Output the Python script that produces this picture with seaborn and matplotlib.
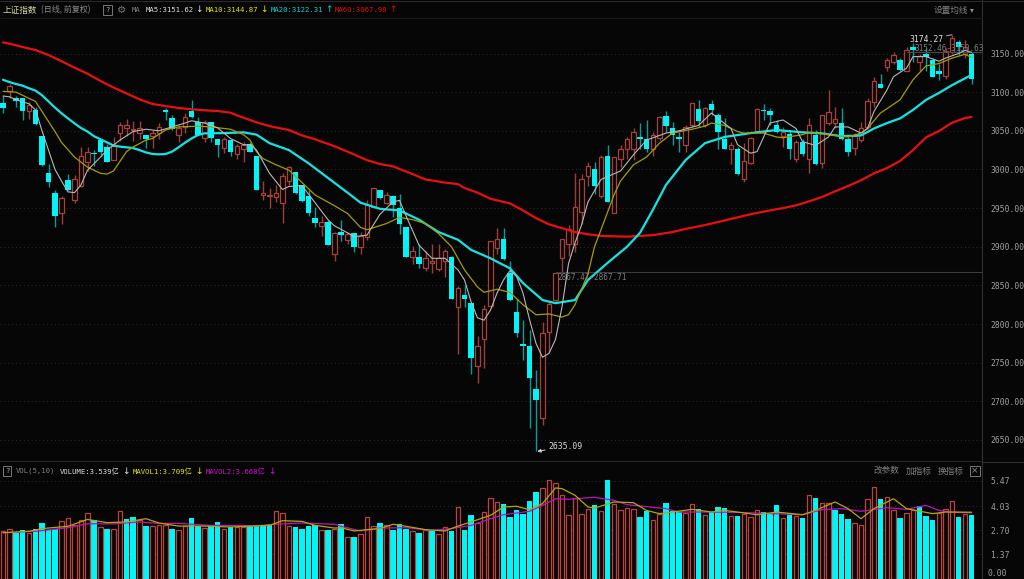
import matplotlib
matplotlib.use('Agg')
import matplotlib.pyplot as plt
import seaborn as sns
import numpy as np

# daily candles of the index
highs = [3095,3111,3095,3092,3087,3081,3043,3007,2973,2966,
         2994,2993,3029,3029,3025,3040,3033,3042,3061,3065,
         3063,3063,3045,3051,3060,3080,3071,3057,3073,3090,
         3068,3064,3062,3039,3042,3039,3033,3036,3036,3017,
         2985,2976,2980,2995,3004,2997,2980,2973,2951,2940,
         2935,2919,2935,2919,2918,2919,2961,2976,2974,2971,
         2967,2968,2925,2901,2903,2894,2903,2904,2897,2888,
         2849,2850,2827,2784,2825,2907,2924,2924,2882,2833,
         2805,2792,2740,2802,2829,2867.47,2910,2928,2995,2994,
         3009,3009,3019,3032,3016,3032,3042,3053,3060,3064,
         3049,3069,3075,3062,3049,3058,3086,3090,3081,3090,
         3073,3066,3036,3029,3034,3042,3079,3085,3079,3064,
         3055,3051,3038,3040,3066,3051,3071,3103,3081,3079,
         3042,3047,3061,3092,3120,3123,3144,3152,3144,3158,
         3163,3150,3157,3144,3136,3157,3174.27,3167,3167,3152]
opens = [3086,3101,3092,3092,3076,3077,3043,2995,2970,2943,
         2986,2960,2978,3010,3021,3038,3029,3012,3047,3053,
         3051,3047,3044,3043,3047,3077,3067,3044,3055,3076,
         3061,3041,3061,3039,3028,3038,3020,3027,3033,3017,
         2967,2965,2964,2956,2985,2997,2980,2966,2937,2927,
         2932,2891,2919,2909,2918,2899,2912,2951,2973,2956,
         2966,2950,2925,2887,2887,2873,2879,2871,2881,2887,
         2822,2837,2827,2746,2781,2823,2898,2910,2866,2816,
         2774,2772,2716,2679,2790,2831,2886,2903,2904,2945,
         2992,3001,2965,3017,2943,3014,3026,3026,3041,3040,
         3026,3041,3069,3053,3042,3032,3057,3078,3058,3085,
         3070,3040,3027,3026,2988,3008,3050,3077,3075,3058,
         3043,3046,3013,3036,3013,3044,3008,3060,3060,3060,
         3039,3028,3038,3055,3087,3110,3132,3139,3142,3128,
         3159,3139,3149,3141,3127,3121,3152,3165,3150,3150]
closes = [3079,3108,3089,3075,3083,3059,3006,2984,2940,2963,
          2974,2988,3018,3022,3020,3023,3010,3030,3058,3057,
          3052,3053,3039,3047,3055,3074,3052,3054,3068,3068,
          3045,3062,3041,3032,3039,3022,3030,3031,3023,2973,
          2969,2966,2970,2991,3003,2969,2959,2943,2931,2932,
          2902,2918,2915,2917,2899,2914,2954,2976,2963,2967,
          2954,2929,2887,2894,2878,2886,2881,2886,2894,2833,
          2846,2833,2756,2771,2820,2907,2910,2884,2831,2788,
          2771,2730,2702,2789,2826,2866,2910,2923,2951,2988,
          3004,2978,3016,2958,3016,3027,3039,3048,3040,3027,
          3045,3068,3056,3045,3039,3055,3086,3063,3080,3077,
          3049,3027,3032,2994,3011,3041,3078,3076,3070,3049,
          3049,3027,3035,3020,3057,3007,3071,3074,3065,3039,
          3022,3043,3053,3089,3114,3105,3141,3148,3129,3155,
          3155,3147,3146,3120,3123,3153,3170,3159,3159,3117]
lows = [3073,3093,3081,3064,3065,3057,3005,2977,2925,2929,
        2973,2956,2977,2998,3004,3017,3009,3012,3037,3043,
        3037,3039,3028,3028,3040,3064,3051,3035,3047,3066,
        3044,3035,3036,3016,3021,3017,3013,3010,3022,2973,
        2960,2950,2958,2931,2980,2968,2958,2940,2925,2914,
        2902,2882,2907,2903,2893,2890,2909,2950,2962,2955,
        2939,2917,2887,2878,2872,2868,2866,2868,2861,2833,
        2761,2822,2735,2724,2743,2822,2891,2883,2830,2783,
        2753,2666,2635.09,2669,2764,2827,2866,2888,2893,2930,
        2979,2968,2963,2958,2943,3003,3014,3012,3027,3023,
        3017,3038,3049,3032,3022,3023,3055,3055,3055,3070,
        3027,3026,3007,2993,2984,3007,3049,3064,3058,3047,
        3029,3014,3010,3017,2996,3006,3002,3058,3053,3038,
        3017,3019,3036,3052,3081,3105,3128,3137,3127,3127,
        3139,3127,3127,3119,3116,3117,3150,3148,3144,3111]

# moving averages, sampled at the candles where they could be read
ma5_idx = [0,1,2,4,5,6,8,9,10,11,12,13,15,16,18,20,22,24,26,28,29,31,33,35,37,38,39,
           40,41,43,44,46,48,50,51,53,54,56,58,60,61,62,64,66,68,70,71,72,73,74,75,76,77,78,79,
           80,81,82,83,84,85,86,87,88,89,90,92,95,97,99,102,104,107,109,110,112,113,115,116,118,
           120,122,123,125,127,128,130,132,133,134,136,137,139,140,142,144,145,147,148,149]
ma5_val = [3095,3094,3090,3085,3077,3050,3000,2985,2971,2970,2980,2999,3016,3025,3038,3049,3052,3050,3055,3060,3063,3060,3054,3040,3032,3032,3025,
           3010,2995,2974,2978,2979,2957,2935,2927,2918,2913,2915,2942,2958,2960,2940,2902,2885,2885,2870,2857,2829,2808,2805,2818,2840,2857,2869,2862,
           2840,2806,2775,2757,2762,2780,2822,2878,2905,2928,2958,2987,2998,3019,3038,3047,3050,3057,3073,3066,3053,3032,3021,3023,3060,
           3064,3053,3036,3031,3042,3055,3055,3047,3053,3075,3103,3120,3131,3146,3146,3140,3144,3150,3154,3151.62]
ma10_idx = [0,2,3,5,6,8,9,11,13,15,16,17,19,20,22,23,25,27,30,32,35,37,38,39,
            40,42,44,46,48,51,53,55,56,59,61,63,65,67,69,71,73,74,76,78,80,82,84,86,87,88,90,91,
            92,94,95,97,99,101,103,106,108,109,111,113,114,117,119,120,123,124,127,130,132,133,135,138,140,142,144,146,148,149]
ma10_val = [3101,3100,3096,3088,3075,3049,3035,3016,3003,2995,2994,2998,3023,3029,3038,3040,3051,3055,3056,3055,3052,3045,3038,3023,
            3014,3006,2999,2983,2967,2953,2943,2925,2922,2930,2938,2935,2930,2917,2900,2870,2848,2841,2845,2841,2825,2812,2813,2809,2812,2825,2865,2900,
            2922,2967,2985,3006,3016,3034,3047,3052,3056,3060,3057,3049,3047,3047,3042,3041,3045,3048,3045,3042,3047,3053,3073,3090,3116,3134,3137,3144,3149,3144.87]
ma20_idx = [0,1,2,3,4,5,6,7,8,9,10,11,12,13,14,15,16,17,18,19,20,21,22,23,24,25,26,27,28,29,30,31,
            34,37,39,41,44,47,50,53,55,58,61,64,67,70,72,75,78,80,83,85,88,90,93,96,98,100,102,105,108,111,115,
            119,123,126,129,132,134,136,138,140,142,144,146,149]
ma20_val = [3116,3113,3110.5,3108.4,3105,3102,3096,3088,3080,3072.6,3066,3059.6,3053.6,3049,3043,3039,3035,3031,3029.5,3028.6,3027.7,3025,3022,3020,3019.5,3020,3023,3028.6,3034.6,3040,3044.5,3046.7,
            3047,3048,3045,3034,3025,3008,2989,2970,2957,2949,2947,2935,2919,2909,2896,2885,2872,2853,2831,2827,2831,2857,2879,2900,2918,2948,2980,3012,3034,3042,3047,
            3051,3048,3046.7,3043,3044,3053,3060,3066,3077,3090,3099,3109,3122.31]
ma60_idx = [0,1,3,5,7,9,11,13,15,17,19,21,23,25,27,29,31,33,35,36,39,41,44,46,48,51,53,56,58,60,63,65,68,70,71,73,75,78,
            80,82,84,86,88,90,92,96,100,103,105,108,110,113,115,118,120,122,124,126,128,130,132,134,136,138,140,142,144,146,148,149]
ma60_val = [3164.4,3162.7,3158.4,3154.5,3148,3140,3131.7,3123.9,3114.4,3106,3098.4,3090.7,3084.7,3082,3079.5,3077.8,3076.5,3075.6,3073.4,3070,3061,3056,3051,3044,3039,3030,3023,3012,3007,3004,2994,2987,2983,2981,2976,2970,2962,2956,
            2947,2937,2929,2924,2919,2916,2914,2913,2915,2919,2923,2928,2932,2938,2942,2947,2950,2953.5,2958.7,2964.3,2971.6,2978.5,2986,2995,3001.8,3010.9,3025,3041.5,3049.7,3060.5,3066.5,3067.98]

# volume in 100 million, with the colour the bar has in the lower panel
volumes = [2.67,2.80,2.57,2.70,2.57,2.76,3.11,2.70,2.80,3.20,3.39,3.02,3.26,3.67,3.28,2.89,2.76,2.76,3.76,3.35,
           3.44,3.26,2.93,2.94,3.02,3.02,2.76,2.70,2.94,3.39,2.94,2.83,2.93,3.17,2.76,2.89,2.89,2.89,2.93,2.98,
           2.98,3.04,3.76,3.65,2.94,2.89,2.76,2.94,3.02,2.70,2.74,2.80,3.04,2.35,2.31,2.52,3.46,2.93,3.11,2.98,
           2.72,3.07,2.80,2.67,2.54,2.70,2.67,2.52,2.91,2.69,3.98,2.72,3.54,3.13,3.72,4.48,4.26,4.17,3.43,3.81,
           3.59,4.31,4.83,5.07,5.50,5.35,4.65,3.54,4.50,3.59,3.87,4.13,3.76,5.50,4.17,3.85,3.93,3.87,3.46,3.78,
           3.26,3.63,4.20,3.76,3.72,3.69,4.15,3.89,3.54,3.72,4.02,3.94,3.48,3.50,3.59,3.43,3.81,3.72,3.65,4.09,
           3.39,3.56,3.48,3.39,4.69,4.52,4.20,4.22,3.81,3.61,3.31,3.09,2.98,4.43,5.09,4.44,4.56,3.85,3.39,3.65,
           3.81,4.04,3.50,3.28,3.65,3.87,4.31,3.44,3.59,3.54]
vol_colors = list('rrccrccccrrrrrcrcrrccrcrrrcrrccrccrcrrccccrrrccccrcr'
                  'crcrrrcrcccrcrcrrcrccrrrrccccccrrrrrrrrcrcrrrrccrrccc'
                  'rrcrcccrcrrrcccrcrcrcrrcccrrrrcrrcrrcccrrrcrc')
vol1_idx = [0,4,6,10,13,16,19,22,24,27,31,35,41,43,46,48,51,52,54,56,58,60,62,65,68,70,72,75,77,79,81,83,85,86,88,90,91,94,97,99,101,103,106,109,111,113,116,119,123,125,128,130,132,134,137,139,143,145,149]
vol1_val = [2.57,2.65,2.80,2.93,3.31,3.13,3.17,3.35,3.11,2.94,2.94,2.89,2.98,3.24,3.20,2.98,2.83,2.85,2.67,2.74,2.80,3.04,2.93,2.74,2.67,2.94,3.17,3.54,4.00,4.04,3.85,4.19,5.06,5.02,4.65,4.00,3.94,4.28,4.24,3.81,3.63,3.72,3.87,3.72,3.81,3.72,3.57,3.72,3.57,3.81,4.28,3.91,3.35,3.91,4.46,3.91,3.63,3.72,3.709]
vol2_idx = [0,5,10,13,17,21,24,27,32,39,42,46,51,52,55,58,62,66,69,72,75,77,81,83,85,87,91,94,96,99,102,104,109,114,123,126,129,132,136,139,142,144,146,149]
vol2_val = [2.57,2.65,2.85,3.07,3.06,3.17,3.09,3.09,2.98,2.96,3.04,3.11,3.04,2.93,2.67,2.83,2.85,2.70,2.80,2.98,3.35,3.57,3.76,4.09,4.46,4.43,4.54,4.37,4.13,4.02,3.91,3.72,3.72,3.69,3.57,3.85,3.91,3.76,3.96,3.87,4.09,3.81,3.72,3.668]

price_ticks = [3150,3100,3050,3000,2950,2900,2850,2800,2750,2700,2650]
vol_ticks = [5.47,4.03,2.70,1.37]

BG = '#060606'
CYAN = '#00f6f6'
RED = '#a8403c'
GRID = '#303030'
MONO = ['DejaVu Sans Mono', 'Noto Sans CJK SC']
CJK = ['Noto Sans CJK SC', 'DejaVu Sans']

sns.set_theme(style='dark', rc={'axes.facecolor': BG, 'figure.facecolor': BG,
                                'axes.edgecolor': '#2a2a2a', 'savefig.facecolor': BG})
plt.rcParams['font.family'] = MONO

W, H = 1024, 579
fig = plt.figure(figsize=(W / 100, H / 100), dpi=100)
ax = fig.add_axes([0, (579 - 462) / H, 982 / W, 442 / H])
ax_vol = fig.add_axes([0, 0, 982 / W, 117 / H])

n = len(closes)
xs = np.arange(n)
up = np.array(closes) >= np.array(opens)
body = np.abs(np.array(closes) - np.array(opens))
bottom = np.minimum(opens, closes)

# candles
ax.vlines(xs[~up], np.array(lows)[~up], np.array(highs)[~up], color='#0a9c9c', lw=1, zorder=2)
ax.vlines(xs[up], np.array(lows)[up], np.array(highs)[up], color='#9c3e3a', lw=1, zorder=2)
ax.bar(xs[~up], np.maximum(body[~up], 1.5), bottom=bottom[~up], width=0.86, color=CYAN, lw=0, zorder=3)
ax.bar(xs[up], np.maximum(body[up], 1.5), bottom=bottom[up], width=0.72, facecolor=BG, edgecolor=RED, lw=0.9, zorder=3)

# moving average lines
for idx, val, col, lw in [(ma60_idx, ma60_val, '#e8100f', 1.6), (ma20_idx, ma20_val, '#14e4e4', 1.6),
                          (ma10_idx, ma10_val, '#a69c00', 0.9), (ma5_idx, ma5_val, '#b8b8b8', 0.8)]:
    sns.lineplot(x=idx, y=val, ax=ax, color=col, lw=lw, estimator=None, sort=False, zorder=5, legend=False)

ax.set_xlim(-3 / 6.5, 979 / 6.5)
ax.set_ylim(3150 - 408.5 / 0.7729, 3150 + 33.5 / 0.7729)
ax.set_yticks(price_ticks)
ax.set_yticklabels([f'{t:.2f}' for t in price_ticks], color='#a0a0a0', fontsize=5.8)
ax.yaxis.tick_right()
ax.tick_params(axis='y', length=0, pad=6)
ax.set_xticks([])
ax.set_xlabel('')
ax.set_ylabel('')
ax.grid(axis='y', color=GRID, ls=(0, (1, 3)), lw=0.7)
ax.set_axisbelow(True)

# high / low markers and the two range guides
ax.hlines(2867.47, 85, 150.6, color='#3c3c3c', lw=0.8, zorder=4)
ax.hlines(3152.46, 139, 150.6, color='#4a4a4a', lw=0.8, zorder=4)
ax.text(85.3, 2860, '2867.47-2867.71', color='#7c7c7c', fontsize=5.6, va='center', zorder=6)
ax.text(140.2, 3157, '3152.46-3150.63', color='#7c7c7c', fontsize=5.6, va='center', zorder=6)
ax.annotate('3174.27', xy=(146, 3174.27), xytext=(139.4, 3168), color='#e0e0e0', fontsize=5.9,
            va='center', ha='left', zorder=7,
            arrowprops=dict(arrowstyle='-', color='#b0b0b0', lw=0.7, shrinkA=0, shrinkB=0))
ax.annotate('2635.09', xy=(82.2, 2635.09), xytext=(83.9, 2642), color='#d8d8d8', fontsize=5.9,
            va='center', ha='left', zorder=7,
            arrowprops=dict(arrowstyle='-|>', color='#d0d0d0', lw=0.7, mutation_scale=5, shrinkA=0, shrinkB=0))

# volume panel
v_up = np.array([c == 'r' for c in vol_colors])
v = np.array(volumes)
ax_vol.bar(xs[~v_up], v[~v_up], width=0.86, color=CYAN, lw=0, zorder=3)
ax_vol.bar(xs[v_up], v[v_up], width=0.72, facecolor='#0c0505', edgecolor='#b5453f', lw=0.9, zorder=3)
sns.lineplot(x=vol2_idx, y=vol2_val, ax=ax_vol, color='#c010c0', lw=0.9, estimator=None, sort=False, zorder=5, legend=False)
sns.lineplot(x=vol1_idx, y=vol1_val, ax=ax_vol, color='#b4a800', lw=0.9, estimator=None, sort=False, zorder=6, legend=False)
ax_vol.set_xlim(-3 / 6.5, 979 / 6.5)
ax_vol.set_ylim(0, 6.5)
ax_vol.set_yticks(vol_ticks)
ax_vol.set_yticklabels([f'{t:.2f}' for t in vol_ticks], color='#a0a0a0', fontsize=5.8)
ax_vol.yaxis.tick_right()
ax_vol.tick_params(axis='y', length=0, pad=6)
ax_vol.set_xticks([])
ax_vol.set_xlabel('')
ax_vol.set_ylabel('')
ax_vol.grid(axis='y', color=GRID, ls=(0, (1, 3)), lw=0.7)
ax_vol.set_axisbelow(True)

for a in (ax, ax_vol):
    for side in ('top', 'left', 'bottom'):
        a.spines[side].set_visible(False)
    a.spines['right'].set_color('#2e2e2e')
    a.spines['right'].set_linewidth(0.8)
ax.spines['bottom'].set_visible(True)
ax.spines['bottom'].set_color('#2e2e2e')

# frame lines around the panels
fig.add_artist(plt.Line2D([982 / W, 1], [(579 - 462) / H] * 2, color='#2e2e2e', lw=0.8))
fig.add_artist(plt.Line2D([982 / W, 982 / W], [(579 - 20) / H, 1], color='#2e2e2e', lw=0.8))
fig.add_artist(plt.Line2D([0, 982 / W], [(579 - 18) / H] * 2, color='#191919', lw=0.8))
fig.add_artist(plt.Line2D([0, 1], [1 - 0.5 / H] * 2, color='#2a2a2a', lw=0.8))


def label(x, y, s, color, size=5.6, family=None, ha='left'):
    fig.text(x / W, 1 - y / H, s, color=color, fontsize=size, va='center', ha=ha,
             family=family or MONO)


def box(x, y, w, h):
    fig.add_artist(plt.Rectangle((x / W, 1 - (y + h) / H), w / W, h / H, fill=False,
                                 edgecolor='#777777', lw=0.7))


# header row of the price panel
label(3, 10, '上证指数', '#d6d6a4', 6.2, CJK)
label(41, 10, '(日线, 前复权)', '#8a8a8a', 5.8, CJK)
box(103, 5, 9, 10)
label(107.5, 10, '?', '#b0b0b0', 5.2, ha='center')
label(122, 10, '\u2699', '#777777', 7.5, ['DejaVu Sans'], ha='center')
label(132, 10, 'MA', '#808080', 5.2)
label(146, 10, 'MA5:3151.62', '#e0e0e0', 5.2)
label(199, 10, '↓', '#e0e0e0', 6.5, ['DejaVu Sans'], ha='center')
label(206, 10, 'MA10:3144.87', '#e6e600', 5.2)
label(264, 10, '↓', '#e6e600', 6.5, ['DejaVu Sans'], ha='center')
label(271, 10, 'MA20:3122.31', '#00d8d8', 5.2)
label(329, 10, '↑', '#00d8d8', 6.5, ['DejaVu Sans'], ha='center')
label(335, 10, 'MA60:3067.98', '#e01010', 5.2)
label(393, 10, '↑', '#e01010', 6.5, ['DejaVu Sans'], ha='center')
label(934, 10, '设置均线', '#808080', 6.2, CJK)
label(972, 10, '▾', '#909090', 5.5, ['DejaVu Sans'], ha='center')

# header row of the volume panel
box(3, 466, 8, 10)
label(7, 471, '?', '#b0b0b0', 5.2, ha='center')
label(16, 471, 'VOL(5,10)', '#808080', 5.2)
label(60, 471, 'VOLUME:3.539亿', '#e0e0e0', 5.2)
label(126, 471, '↓', '#e0e0e0', 6.5, ['DejaVu Sans'], ha='center')
label(133, 471, 'MAVOL1:3.709亿', '#e6e600', 5.2)
label(199, 471, '↓', '#e6e600', 6.5, ['DejaVu Sans'], ha='center')
label(206, 471, 'MAVOL2:3.668亿', '#d010d0', 5.2)
label(272, 471, '↓', '#d010d0', 6.5, ['DejaVu Sans'], ha='center')
label(874, 471, '改参数', '#808080', 6.2, CJK)
label(906, 471, '加指标', '#808080', 6.2, CJK)
label(938, 471, '换指标', '#808080', 6.2, CJK)
box(970, 466, 10, 10)
label(975, 471, '×', '#909090', 6.5, ['DejaVu Sans'], ha='center')
label(988, 573, '0.00', '#a0a0a0', 5.8)

fig.savefig('out.png', dpi=100)
